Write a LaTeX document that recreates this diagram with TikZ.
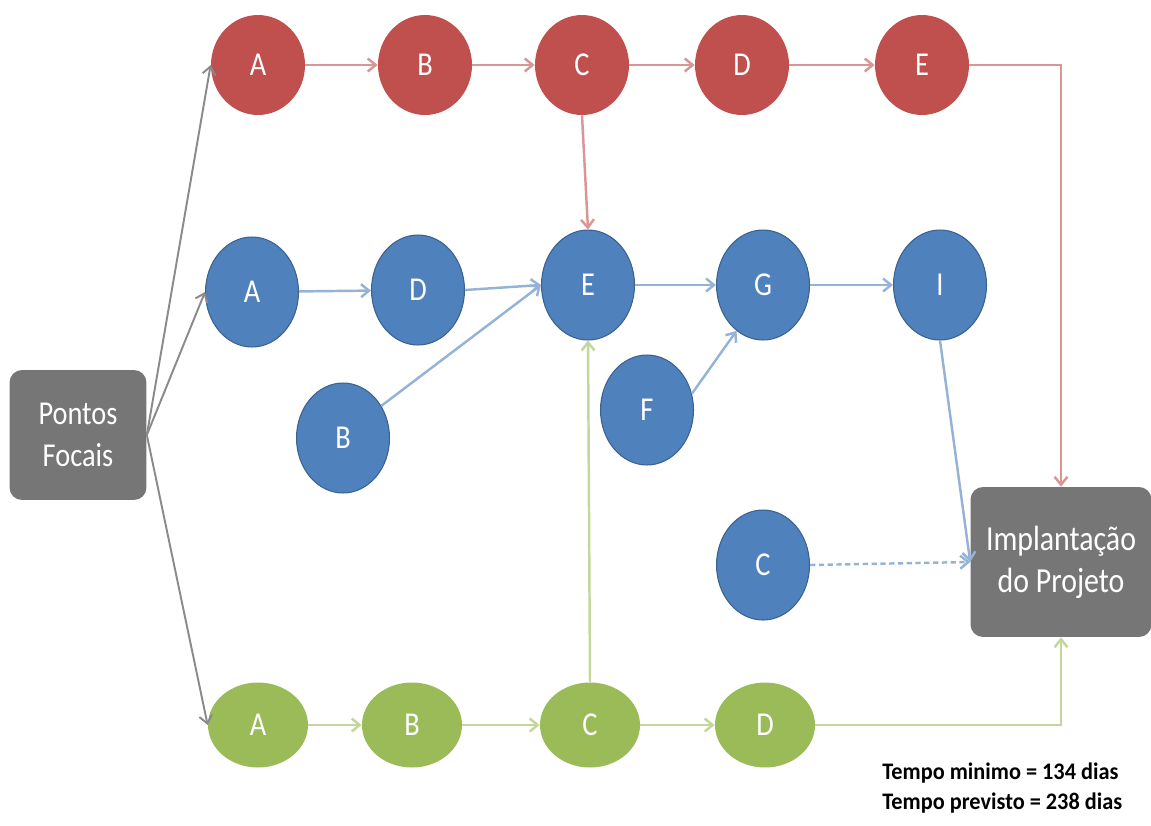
\documentclass[tikz,border=0pt]{standalone}
\usepackage{fontspec}
\setmainfont{Carlito}[FakeStretch=0.85]
\newfontfamily\notefont{Carlito}[FakeStretch=0.94]
\usepackage{tikz}
\usetikzlibrary{shapes.geometric, arrows.meta, positioning}
\definecolor{actred}{RGB}{192,80,77}
\definecolor{actblue}{RGB}{79,129,189}
\definecolor{actgreen}{RGB}{155,187,89}
\definecolor{linered}{RGB}{217,150,148}
\definecolor{lineblue}{RGB}{149,179,215}
\definecolor{linegreen}{RGB}{195,214,155}
\definecolor{boxgray}{RGB}{118,118,118}

\begin{document}
\begin{tikzpicture}[x=0.02cm, y=-0.02cm,
  act/.style={ellipse, fill=#1, text=white, font=\fontsize{19}{22}\selectfont,
              inner sep=0pt},
  redact/.style={act=actred, minimum width=1.88cm, minimum height=2cm},
  blueact/.style={act=actblue, draw=actblue!75!black, line width=0.6pt,
                  minimum width=1.86cm, minimum height=2.2cm},
  greenact/.style={act=actgreen, minimum width=2cm, minimum height=1.7cm},
  endbox/.style={rectangle, rounded corners=0.25cm, fill=boxgray, text=white,
                 align=center, font=\fontsize{#1}{24}\selectfont},
  arr/.style={-{Straight Barb[length=1.6mm, width=2.6mm]}, line width=1.4pt, #1},
]
  \useasboundingbox (0,0) rectangle (1151,825);

  \node[endbox=19, minimum width=2.74cm, minimum height=2.6cm] (pf) at (78,435) {Pontos\\Focais};
  \node[endbox=20, minimum width=3.62cm, minimum height=3cm] (impl) at (1061,562) {Implanta\c{c}\~ao\\do Projeto};

  \node[redact] (ra) at (258,65) {A};
  \node[redact] (rb) at (425,65) {B};
  \node[redact] (rc) at (582,65) {C};
  \node[redact] (rd) at (742,65) {D};
  \node[redact] (re) at (922,65) {E};

  \node[blueact] (ba) at (252,292) {A};
  \node[blueact] (bd) at (418,290) {D};
  \node[blueact] (be) at (588,285) {E};
  \node[blueact] (bg) at (763,285) {G};
  \node[blueact] (bi) at (940,285) {I};
  \node[blueact] (bb) at (343,438) {B};
  \node[blueact] (bf) at (647,410) {F};
  \node[blueact] (bc) at (763,565) {C};

  \node[greenact] (ga) at (258,725) {A};
  \node[greenact] (gb) at (412,725) {B};
  \node[greenact] (gc) at (590,725) {C};
  \node[greenact] (gd) at (765,725) {D};

  \node[font=\notefont\bfseries\fontsize{13.5}{17.6}\selectfont, align=left, anchor=north west,
        inner sep=0pt] (note) at (882,762) {Tempo minimo = 134 dias\\Tempo previsto = 238 dias};

  \draw[arr={boxgray!85, line width=1.1pt}] (pf.east) -- (ra.west);
  \draw[arr={boxgray!85, line width=1.1pt}] (pf.east) -- (ba.west);
  \draw[arr={boxgray!85, line width=1.1pt}] (pf.east) -- (ga.west);

  \draw[arr=linered] (ra) -- (rb);
  \draw[arr=linered] (rb) -- (rc);
  \draw[arr=linered] (rc) -- (rd);
  \draw[arr=linered] (rd) -- (re);
  \draw[arr=linered] (re.east) -| (impl.north);
  \draw[arr=linered] (rc.south) -- (be.north);

  \draw[arr=lineblue] (ba) -- (bd);
  \draw[arr=lineblue] (bd.east) -- (be.west);
  \draw[arr=lineblue] (bb.40) -- (be.west);
  \draw[arr=lineblue] (be) -- (bg);
  \draw[arr=lineblue] (bf.20) -- (bg.240);
  \draw[arr=lineblue] (bg) -- (bi);
  \draw[arr=lineblue] (bi.south) -- (impl.west);
  \draw[arr=lineblue, densely dashed] (bc.east) -- (impl.west);

  \draw[arr=linegreen] (ga) -- (gb);
  \draw[arr=linegreen] (gb) -- (gc);
  \draw[arr=linegreen] (gc) -- (gd);
  \draw[arr=linegreen] (gc.north) -- (be.south);
  \draw[arr=linegreen] (gd.east) -| (impl.south);
\end{tikzpicture}
\end{document}
